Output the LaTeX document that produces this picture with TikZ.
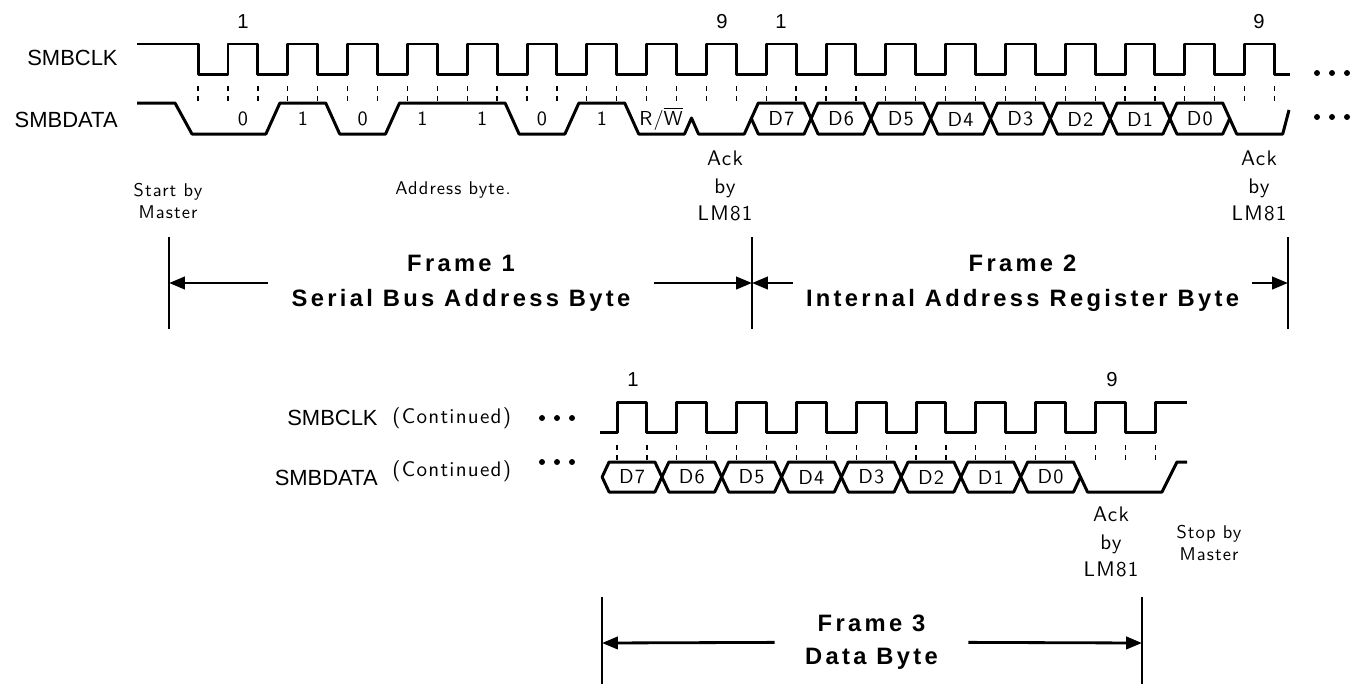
\documentclass[tikz,border=0pt]{standalone}
\usepackage{fontspec}
\setmainfont{Liberation Sans}
\newfontfamily\framefont{Liberation Sans}[LetterSpace=14]
\newfontfamily\cadfont{lmsans10-regular.otf}[LetterSpace=6]
\usetikzlibrary{positioning}
\usetikzlibrary{arrows.meta}
\tikzstyle{wave} = [draw, line width=1.7pt, line join=round]
\tikzstyle{guide} = [draw, line width=0.7pt, dash pattern=on 2.8pt off 2.8pt]
\tikzstyle{edge} = [draw, line width=0.7pt]
\tikzstyle{line} = [draw, line width=1.6pt, -{Triangle[length=9pt,width=7pt]}]
\tikzstyle{sig} = [anchor=east, inner sep=0pt, font=\fontsize{12.5}{14}\selectfont]
\tikzstyle{cont} = [inner sep=0pt, font=\cadfont\fontsize{12}{14}\selectfont]
\tikzstyle{count} = [inner sep=0pt, font=\fontsize{11.5}{13}\selectfont]
\tikzstyle{bit} = [inner sep=0pt, font=\cadfont\fontsize{11.5}{13}\selectfont]
\tikzstyle{note} = [align=center, inner sep=0pt, font=\cadfont\fontsize{12}{15.5}\selectfont]
\tikzstyle{small} = [align=center, inner sep=0pt, font=\cadfont\fontsize{10.5}{13}\selectfont]
\tikzstyle{frame} = [align=center, inner sep=0pt, font=\framefont\bfseries\fontsize{13.5}{20}\selectfont]

\begin{document}
\begin{tikzpicture}[x=0.02cm, y=-0.02cm]
  \fill[white] (0,0) rectangle (1361,684);
  \useasboundingbox (0,0) rectangle (1361,684);

  \node [sig] (clk) at (118,58) {SMBCLK};
  \node [sig] (dat) at (118,120) {SMBDATA};
  \node [count] (n1) at (243,22) {1};
  \node [count] (n9) at (722,22) {9};
  \node [count] (m1) at (781,22) {1};
  \node [count] (m9) at (1259,22) {9};

  \draw [wave] (137,44) -- (198.1,44) -- (198.1,74)
    \foreach \k in {0,...,17} { -- ({228+59.8*\k},74) -- ({228+59.8*\k},44)
      -- ({257.9+59.8*\k},44) -- ({257.9+59.8*\k},74) } -- (1290,74);
  \foreach \k in {0,...,36}
    \path [guide] ({198.1+29.9*\k},86) -- ({198.1+29.9*\k},102);

  \draw [wave] (137,103) -- (175,103) -- (192,134) -- (265.9,134) -- (279.9,103)
    -- (325.7,103) -- (339.7,134) -- (385.5,134) -- (399.5,103)
    -- (505.1,103) -- (519.1,134) -- (564.9,134) -- (578.9,103)
    -- (624.7,103) -- (638.7,134) -- (684.5,134) -- (691.5,118) -- (698.5,134)
    -- (744.3,134) -- (751.3,118.5);
  \foreach \k in {0,...,7}
    \draw [wave] ({751.3+59.8*\k},118.5) -- ++(7,-15.5) -- ({744.3+59.8*(\k+1)},103)
      -- ({751.3+59.8*(\k+1)},118.5) -- ++(-7,15.5) -- ({758.3+59.8*\k},134) -- cycle;
  \draw [wave] (1229.7,118.5) -- (1236.7,134) -- (1282.7,134) -- (1289,110);

  \foreach \b [count=\k] in {0,1,0,1,1,0,1}
    \node [bit] (b\k) at ({243+59.8*(\k-1)},119) {\b};
  \node [bit] (rw) at (661,119) {R/$\overline{\mbox{W}}$};
  \foreach \d [count=\k] in {7,6,...,0}
    \node [bit] (d\k) at ({781.2+59.8*(\k-1)},119) {D\d};

  \foreach \x in {1317,1332,1347} {
    \fill (\x,73) circle[radius=1.7pt];
    \fill (\x,117) circle[radius=1.7pt];
  }

  \node [small] (start) at (168,201) {Start by\\Master};
  \node [small] (addr) at (453,190) {Address byte.};
  \node [note] (ack1) at (725,186) {Ack\\by\\LM81};
  \node [note] (ack2) at (1259,186) {Ack\\by\\LM81};

  \path [edge] (169,237) -- (169,329);
  \path [edge] (752,237) -- (752,329);
  \path [edge] (1288,237) -- (1288,329);
  \coordinate (f1a) at (169,283);
  \coordinate (f1b) at (752,283);
  \coordinate (f2b) at (1288,283);
  \node [frame, minimum width=7.72cm] (fr1) at (461,283) {Frame 1\\Serial Bus Address Byte};
  \node [frame, minimum width=9.18cm] (fr2) at (1022.5,283) {Frame 2\\Internal Address Register Byte};
  \path [line] (fr1) -- (f1a);
  \path [line] (fr1) -- (f1b);
  \path [line] (fr2) -- (f1b);
  \path [line] (fr2) -- (f2b);

  \node [sig] (clk2) at (378,418) {SMBCLK};
  \node [cont, right=8pt of clk2] (clkc) {(Continued)};
  \node [sig] (dat2) at (378,478) {SMBDATA};
  \node [cont, right=8pt of dat2, yshift=4pt] (datc) {(Continued)};
  \node [count] (k1) at (633,380) {1};
  \node [count] (k9) at (1112,380) {9};
  \foreach \x in {542,557,572} {
    \fill (\x,418) circle[radius=1.7pt];
    \fill (\x,462) circle[radius=1.7pt];
  }

  \draw [wave] (600,432)
    \foreach \k in {0,...,8} { -- ({617+59.8*\k},432) -- ({617+59.8*\k},402)
      -- ({646.9+59.8*\k},402) -- ({646.9+59.8*\k},432) }
    -- (1155.2,432) -- (1155.2,402) -- (1187,402);
  \foreach \k in {0,...,18}
    \path [guide] ({617+29.9*\k},445) -- ({617+29.9*\k},461);

  \foreach \k in {0,...,7}
    \draw [wave] ({602.1+59.8*\k},477) -- ++(7,-15) -- ({595.1+59.8*(\k+1)},462)
      -- ({602.1+59.8*(\k+1)},477) -- ++(-7,15) -- ({609.1+59.8*\k},492) -- cycle;
  \draw [wave] (1080.5,477) -- (1087.5,492) -- (1162,492) -- (1177,462) -- (1187,462);
  \foreach \d [count=\k] in {7,6,...,0}
    \node [bit] (e\k) at ({632+59.8*(\k-1)},477) {D\d};

  \node [note] (ack3) at (1111,542) {Ack\\by\\LM81};
  \node [small] (stop) at (1209,543) {Stop by\\Master};

  \path [edge] (602,597) -- (602,684);
  \path [edge] (1142,597) -- (1142,684);
  \coordinate (f3a) at (602,643);
  \coordinate (f3b) at (1142,643);
  \node [frame, minimum width=3.86cm, font=\framefont\bfseries\fontsize{13.5}{19}\selectfont] (fr3) at (871.5,642) {Frame 3\\Data Byte};
  \path [line] (fr3) -- (f3a);
  \path [line] (fr3) -- (f3b);

\end{tikzpicture}
\end{document}
